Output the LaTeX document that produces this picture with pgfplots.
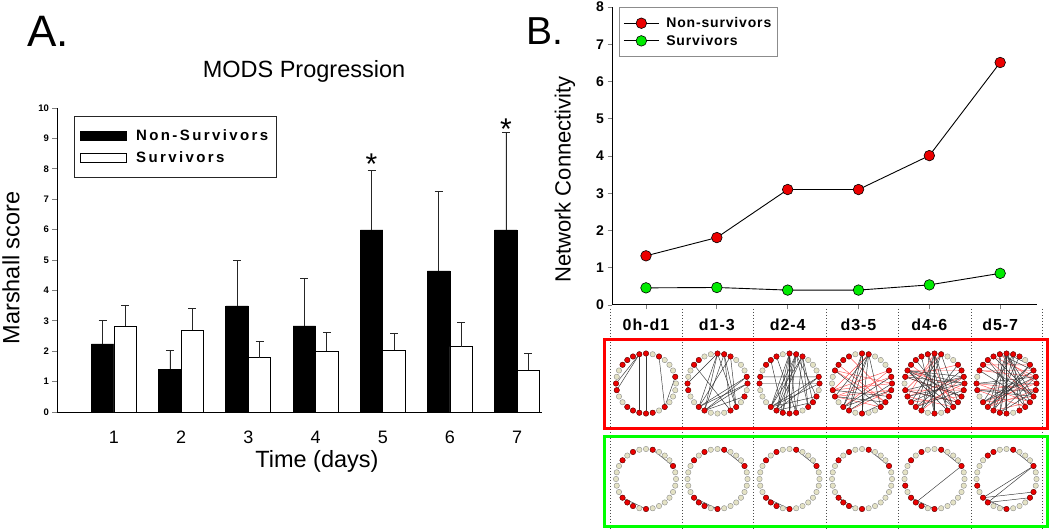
\documentclass[border=0pt]{standalone}
\usepackage{fontspec}
\setmainfont{Liberation Sans}
\usepackage{pgfplots}
\pgfplotsset{compat=1.18}
\usepgfplotslibrary{polar}
\definecolor{nsred}{RGB}{235,0,0}
\definecolor{sgreen}{RGB}{0,235,0}
\definecolor{beige}{RGB}{228,226,196}
\definecolor{boxred}{RGB}{255,0,0}
\definecolor{boxgreen}{RGB}{0,255,0}
\definecolor{edgered}{RGB}{255,80,80}
\pgfplotsset{
  netax/.style={hide axis, scale only axis, width=60pt, height=60pt,
    ymin=0, ymax=1, clip=false, anchor=center,
    x filter/.expression={x*360/28}},
  ringnode/.style={only marks, mark=*, mark size=2.7pt,
    mark options={fill=beige, draw=black!45, line width=0.4pt}},
  rednode/.style={only marks, mark=*, mark size=2.7pt,
    mark options={fill=nsred, draw=black!60!red, line width=0.4pt}},
  edgeb/.style={black!80, line width=0.45pt, no marks},
  edger/.style={edgered, line width=0.45pt, no marks},
}
\newcommand{\eb}[2]{\addplot[edgeb] coordinates {(#1,1) (#2,1)};}
\newcommand{\er}[2]{\addplot[edger] coordinates {(#1,1) (#2,1)};}
\newcommand{\netw}[4]{%
\begin{polaraxis}[netax, at={(#1pt,#2pt)}]
#4
\addplot[ringnode] coordinates {(0,1)(1,1)(2,1)(3,1)(4,1)(5,1)(6,1)(7,1)(8,1)(9,1)(10,1)(11,1)(12,1)(13,1)(14,1)(15,1)(16,1)(17,1)(18,1)(19,1)(20,1)(21,1)(22,1)(23,1)(24,1)(25,1)(26,1)(27,1)};
\addplot[rednode] coordinates {#3};
\end{polaraxis}}
\begin{document}
\begin{tikzpicture}[x=1pt,y=1pt]
\useasboundingbox (0,0) rectangle (1050,528);
\node[anchor=base west, font=\fontsize{44}{50}\selectfont, inner sep=0pt] at (27,481) {A.};
\node[anchor=base west, font=\fontsize{39}{45}\selectfont, inner sep=0pt] at (526,483) {B.};
\node[anchor=base, font=\fontsize{23.5}{28}\selectfont, inner sep=0pt] at (304,450) {MODS Progression};

% ---------------- Panel A ----------------
\begin{axis}[
  at={(57pt,116pt)}, anchor=south west, scale only axis,
  width=485pt, height=304pt,
  xmin=0.152, xmax=7.37, ymin=0, ymax=10,
  axis lines=left, axis line style={-, line width=0.9pt},
  ybar=0pt, bar width=22.5pt,
  xtick={1,...,7}, ytick={0,...,10},
  tick align=outside, major tick length=4.5pt,
  xtick style={draw=none}, ytick style={line width=0.8pt},
  /pgf/number format/assume math mode=true,
  yticklabel style={font=\fontsize{9.5}{11}\selectfont\bfseries},
  xticklabel style={font=\fontsize{18}{21}\selectfont, anchor=base, yshift=-27pt},
  every axis y label/.style={at={(axis description cs:-0.095,0.474)}, rotate=90, anchor=center, font=\fontsize{23.5}{28}\selectfont},
  every axis x label/.style={at={(axis description cs:0.536,-0.181)}, anchor=base, font=\fontsize{23.5}{28}\selectfont},
  ylabel={Marshall score}, xlabel={Time (days)},
  legend style={at={(0.035,0.974)}, anchor=north west, draw=black!85, line width=0.9pt,
    font=\fontsize{15}{17}\selectfont\bfseries\addfontfeature{LetterSpace=16},
    inner xsep=6pt, inner ysep=11pt, row sep=6pt, column sep=7pt, legend cell align=left},
  legend image code/.code={\draw[#1, line width=0.7pt] (0pt,-4.5pt) rectangle (46pt,4.5pt);},
  error bars/y dir=plus, error bars/y explicit,
  error bars/error mark options={rotate=90, mark size=4pt, line width=0.7pt, black!85},
  error bars/error bar style={line width=0.7pt, black!85},
]
\addplot[fill=black, draw=black, line width=0.8pt] coordinates {
  (1,2.24) +- (0,0.76)
  (2,1.41) +- (0,0.61)
  (3,3.49) +- (0,1.50)
  (4,2.83) +- (0,1.57)
  (5,5.99) +- (0,1.96)
  (6,4.64) +- (0,2.63)
  (7,5.99) +- (0,3.22)
};
\addplot[fill=white, draw=black, line width=0.8pt] coordinates {
  (1,2.83) +- (0,0.69)
  (2,2.70) +- (0,0.70)
  (3,1.79) +- (0,0.53)
  (4,2.00) +- (0,0.62)
  (5,2.04) +- (0,0.56)
  (6,2.15) +- (0,0.79)
  (7,1.38) +- (0,0.55)
};
\legend{Non-Survivors, Survivors}
\node[anchor=base, font=\fontsize{30}{34}\selectfont, inner sep=0pt] at (axis cs:4.833,7.80) {*};
\node[anchor=base, font=\fontsize{30}{34}\selectfont, inner sep=0pt] at (axis cs:6.833,8.98) {*};
\end{axis}

% ---------------- Panel B ----------------
\begin{axis}[
  at={(612pt,223pt)}, anchor=south west, scale only axis,
  width=425pt, height=298pt,
  xmin=-0.48, xmax=5.52, ymin=0, ymax=8,
  axis lines=left, axis line style={-, line width=1pt},
  clip=false,
  xtick={0,...,5}, xticklabels={}, ytick={0,...,8},
  tick align=outside, major tick length=4.5pt,
  tick style={line width=0.8pt},
  /pgf/number format/assume math mode=true,
  yticklabel style={font=\fontsize{14}{16}\selectfont\bfseries},
  every axis y label/.style={at={(axis description cs:-0.111,0.421)}, rotate=90, anchor=center, font=\fontsize{22}{26}\selectfont},
  ylabel={Network Connectivity},
  legend style={at={(0.0165,1)}, anchor=north west, draw=black!45, line width=0.8pt,
    font=\fontsize{14}{16}\selectfont\bfseries\addfontfeature{LetterSpace=6},
    inner xsep=4pt, inner ysep=8pt, row sep=2pt, column sep=5pt, legend cell align=left},
  legend image code/.code={\draw[mark repeat=2, mark phase=2, #1] plot coordinates {(0pt,0pt) (17.5pt,0pt) (35pt,0pt)};},
]
\addplot[black, line width=0.9pt, mark=*, mark size=5.3pt, mark options={fill=nsred, draw=black, line width=0.6pt}]
  coordinates {(0,1.32) (1,1.81) (2,3.10) (3,3.10) (4,4.01) (5,6.51)};
\addplot[black, line width=0.9pt, mark=*, mark size=5.3pt, mark options={fill=sgreen, draw=black, line width=0.6pt}]
  coordinates {(0,0.46) (1,0.47) (2,0.40) (3,0.40) (4,0.54) (5,0.85)};
\legend{Non-survivors, Survivors}
% separators
\addplot[black!70, line width=0.6pt, dash pattern=on 1.5pt off 1.5pt, forget plot] coordinates {(-0.508,-0.107) (-0.508,-5.987)};
\addplot[black!70, line width=0.6pt, dash pattern=on 1.5pt off 1.5pt, forget plot] coordinates {(0.508,-0.107) (0.508,-5.987)};
\addplot[black!70, line width=0.6pt, dash pattern=on 1.5pt off 1.5pt, forget plot] coordinates {(1.511,-0.107) (1.511,-5.987)};
\addplot[black!70, line width=0.6pt, dash pattern=on 1.5pt off 1.5pt, forget plot] coordinates {(2.542,-0.107) (2.542,-5.987)};
\addplot[black!70, line width=0.6pt, dash pattern=on 1.5pt off 1.5pt, forget plot] coordinates {(3.559,-0.107) (3.559,-5.987)};
\addplot[black!70, line width=0.6pt, dash pattern=on 1.5pt off 1.5pt, forget plot] coordinates {(4.590,-0.107) (4.590,-5.987)};
\addplot[black!70, line width=0.6pt, dash pattern=on 1.5pt off 1.5pt, forget plot] coordinates {(5.593,-0.107) (5.593,-5.987)};
% boxes
\addplot[boxred, line width=3pt, forget plot] coordinates {(-0.579,-0.926) (5.664,-0.926) (5.664,-3.315) (-0.579,-3.315)} -- cycle;
\addplot[boxgreen, line width=3pt, forget plot] coordinates {(-0.579,-3.517) (5.664,-3.517) (5.664,-5.933) (-0.579,-5.933)} -- cycle;
% column labels
\foreach \i/\t in {0/0h-d1, 1/d1-3, 2/d2-4, 3/d3-5, 4/d4-6, 5/d5-7}{
  \edef\temp{\noexpand\node[font=\noexpand\fontsize{16}{18}\noexpand\selectfont\noexpand\bfseries\noexpand\addfontfeature{LetterSpace=6}] at (axis cs:\i,-0.537) {\t};}
  \temp
}
\end{axis}

% ---------------- Networks: non-survivors ----------------
\netw{646}{144.5}{(1,1)(5,1)(7,1)(8,1)(9,1)(10,1)(11,1)(14,1)(15,1)(18,1)(19,1)(20,1)(21,1)(22,1)(24,1)}
{\eb{8}{14}\eb{8}{15}\eb{8}{20}\eb{7}{21}\eb{5}{24}\eb{1}{24}}

\netw{717.5}{144.5}{(0,1)(1,1)(5,1)(6,1)(7,1)(10,1)(11,1)(14,1)(15,1)(18,1)(19,1)(23,1)(24,1)(26,1)}
{\eb{14}{7}\eb{7}{18}\eb{7}{19}\eb{6}{19}\eb{6}{23}\eb{5}{24}\eb{5}{18}\eb{7}{24}\eb{1}{18}\eb{1}{19}\eb{0}{18}\eb{0}{19}\eb{26}{19}\eb{24}{6}\eb{11}{23}}

\netw{789.5}{144.5}{(0,1)(1,1)(5,1)(6,1)(7,1)(9,1)(10,1)(11,1)(13,1)(14,1)(18,1)(19,1)(20,1)(21,1)(22,1)(24,1)(25,1)(26,1)}
{\eb{7}{18}\eb{7}{19}\eb{7}{20}\eb{7}{22}\eb{6}{18}\eb{6}{19}\eb{6}{21}\eb{6}{24}\eb{5}{19}\eb{5}{22}\eb{5}{24}\eb{5}{25}\eb{7}{21}\eb{6}{20}\eb{0}{14}\eb{1}{13}\eb{0}{18}\eb{1}{19}\eb{26}{18}\eb{25}{19}\eb{1}{18}\eb{10}{20}\eb{9}{22}\eb{6}{26}\eb{5}{18}}

\netw{862}{144.5}{(0,1)(1,1)(2,1)(6,1)(7,1)(9,1)(10,1)(11,1)(12,1)(15,1)(16,1)(18,1)(19,1)(21,1)(24,1)(25,1)(26,1)(27,1)}
{\er{6}{15}\er{12}{25}\er{15}{0}\er{16}{1}\er{16}{27}\er{18}{2}\er{12}{0}\er{19}{27}\er{11}{25}\er{16}{24}\er{15}{2}\er{9}{26}
 \eb{6}{18}\eb{6}{19}\eb{6}{21}\eb{6}{24}\eb{7}{19}\eb{7}{21}\eb{7}{18}\eb{15}{26}\eb{16}{25}\eb{18}{27}\eb{18}{1}\eb{19}{0}\eb{21}{25}\eb{6}{16}\eb{12}{24}}

\netw{934.5}{144.5}{(0,1)(1,1)(2,1)(3,1)(6,1)(7,1)(8,1)(9,1)(10,1)(11,1)(12,1)(13,1)(15,1)(16,1)(17,1)(18,1)(19,1)(21,1)(23,1)(24,1)(25,1)(26,1)(27,1)}
{\er{12}{27}\er{12}{2}\er{11}{25}\er{13}{26}\er{15}{27}\er{16}{1}\er{17}{26}\er{7}{16}\er{6}{15}\er{18}{0}\er{19}{1}\er{15}{25}\er{13}{3}\er{8}{24}\er{16}{24}
 \eb{12}{0}\eb{12}{1}\eb{12}{26}\eb{12}{24}\eb{12}{23}\eb{7}{18}\eb{7}{19}\eb{7}{21}\eb{7}{23}\eb{7}{24}\eb{6}{17}\eb{6}{19}\eb{6}{25}\eb{8}{21}\eb{8}{23}\eb{1}{15}\eb{1}{17}\eb{0}{16}\eb{27}{18}\eb{26}{13}\eb{25}{15}\eb{3}{19}\eb{9}{21}\eb{10}{24}\eb{2}{18}\eb{13}{0}}

\netw{1006.5}{144.5}{(0,1)(1,1)(2,1)(3,1)(5,1)(6,1)(7,1)(8,1)(9,1)(10,1)(11,1)(12,1)(14,1)(15,1)(17,1)(18,1)(19,1)(20,1)(21,1)(23,1)(24,1)(25,1)(26,1)(27,1)}
{\er{14}{27}\er{15}{0}\er{12}{1}\er{11}{3}\er{17}{26}\er{17}{0}\er{18}{1}\er{19}{25}\er{10}{26}\er{12}{2}\er{15}{24}\er{14}{25}\er{9}{1}\er{8}{0}\er{18}{27}
 \eb{7}{18}\eb{7}{19}\eb{7}{20}\eb{7}{21}\eb{7}{24}\eb{7}{25}\eb{7}{26}\eb{8}{19}\eb{8}{21}\eb{6}{17}\eb{6}{20}\eb{6}{23}\eb{14}{0}\eb{14}{1}\eb{15}{27}\eb{15}{26}\eb{17}{1}\eb{18}{2}\eb{19}{3}\eb{20}{27}\eb{12}{25}\eb{10}{24}\eb{9}{26}\eb{5}{19}\eb{3}{18}\eb{2}{17}\eb{1}{20}\eb{26}{11}\eb{8}{2}\eb{7}{3}}

% ---------------- Networks: survivors ----------------
\netw{646}{49}{(2,1)(6,1)(9,1)(11,1)(17,1)(18,1)(19,1)(21,1)}
{\eb{6}{2}\eb{17}{21}}
\netw{717.5}{49}{(2,1)(6,1)(9,1)(11,1)(17,1)(18,1)(19,1)(21,1)}
{\eb{6}{2}\eb{17}{21}\eb{18}{21}}
\netw{789.5}{49}{(2,1)(6,1)(9,1)(11,1)(17,1)(18,1)(19,1)(21,1)}
{\eb{6}{2}\eb{17}{21}\eb{18}{20}}
\netw{862}{49}{(2,1)(6,1)(9,1)(11,1)(17,1)(18,1)(19,1)(21,1)}
{\eb{6}{2}\eb{17}{20}}
\netw{934.5}{49}{(2,1)(6,1)(9,1)(11,1)(15,1)(17,1)(18,1)(19,1)(21,1)}
{\eb{6}{2}\eb{2}{18}\eb{17}{21}\eb{18}{20}}
\netw{1006.5}{49}{(2,1)(6,1)(9,1)(10,1)(15,1)(17,1)(18,1)(21,1)(25,1)(26,1)}
{\eb{2}{17}\eb{2}{18}\eb{26}{17}\eb{25}{18}\eb{6}{2}\eb{17}{21}}
\end{tikzpicture}
\end{document}
